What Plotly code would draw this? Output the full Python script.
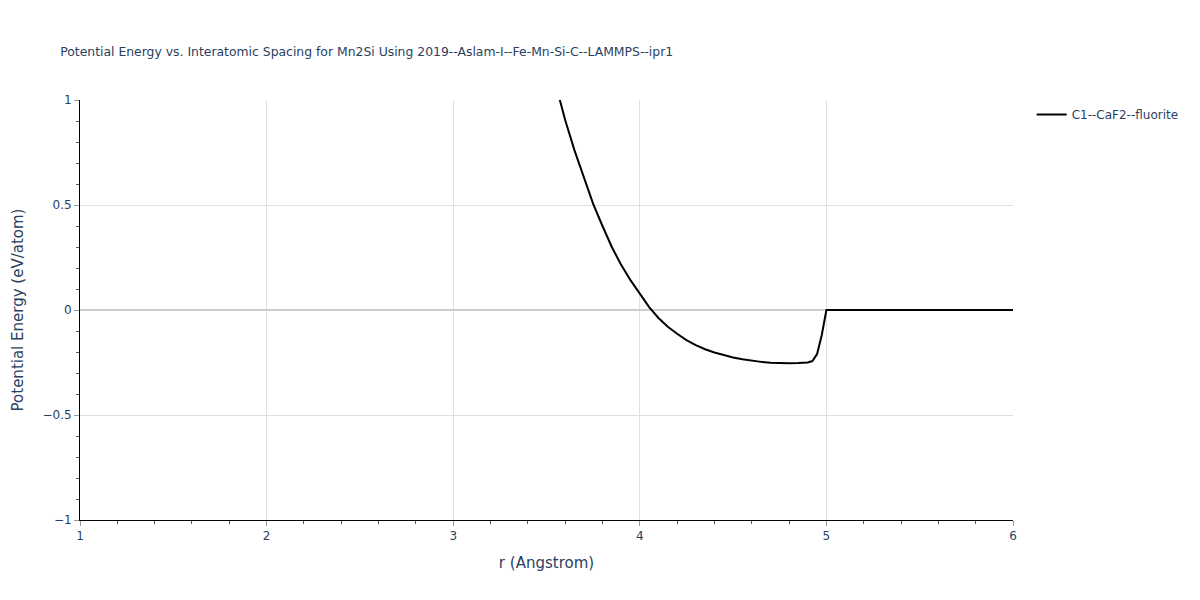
import plotly.graph_objects as go

r_vals = [3.5, 3.55, 3.6, 3.65, 3.7, 3.75, 3.8, 3.85, 3.9, 3.95, 4.0, 4.05, 4.1, 4.15,
          4.2, 4.25, 4.3, 4.35, 4.4, 4.45, 4.5, 4.55, 4.6, 4.65, 4.7, 4.75, 4.8, 4.85,
          4.9, 4.925, 4.95, 4.975, 5.0, 5.25, 5.5, 5.75, 6.0]
energy = [1.24, 1.07, 0.905, 0.76, 0.63, 0.505, 0.40, 0.30, 0.215, 0.142, 0.078, 0.014,
          -0.038, -0.08, -0.113, -0.143, -0.167, -0.187, -0.202, -0.215, -0.226, -0.235,
          -0.242, -0.247, -0.251, -0.253, -0.253, -0.252, -0.25, -0.243, -0.21, -0.12,
          0.0, 0.0, 0.0, 0.0, 0.0]
series_name = "C1--CaF2--fluorite"
title_text = "Potential Energy vs. Interatomic Spacing for Mn2Si Using 2019--Aslam-I--Fe-Mn-Si-C--LAMMPS--ipr1"

fig = go.Figure()
fig.add_trace(go.Scatter(x=r_vals, y=energy, mode="lines", name=series_name,
                         line=dict(color="black", width=2)))

axis_common = dict(
    showline=True, linecolor="black", linewidth=1,
    ticks="outside", ticklen=5, tickcolor="#999",
    showgrid=True, gridcolor="#e0e0e0", gridwidth=1,
    zeroline=True, zerolinecolor="#cccccc", zerolinewidth=2,
    tickfont=dict(size=12, color="#2a3f5f"),
    title_font=dict(size=15, color="#2a3f5f"),
    automargin=False,
)

fig.update_layout(
    width=1200, height=600,
    plot_bgcolor="white", paper_bgcolor="white",
    font=dict(family="DejaVu Sans, Verdana, sans-serif", color="#2a3f5f"),
    title=dict(text=title_text, x=0.0435, xanchor="left", y=0.935, font=dict(size=12.4)),
    margin=dict(l=72, r=195, t=92, b=88),
    showlegend=True,
    legend=dict(x=1.02, y=1.0, xanchor="left", yanchor="top", font=dict(size=12)),
    xaxis=dict(title=dict(text="r (Angstrom)"), range=[1, 6], dtick=1,
               minor=dict(ticks="outside", dtick=0.2, ticklen=3, tickcolor="#555", showgrid=False),
               **axis_common),
    yaxis=dict(title=dict(text="Potential Energy (eV/atom)"), range=[-1, 1], dtick=0.5,
               minor=dict(ticks="outside", dtick=0.1, ticklen=3, tickcolor="#555", showgrid=False),
               **axis_common),
)

fig.write_html("out.html")
